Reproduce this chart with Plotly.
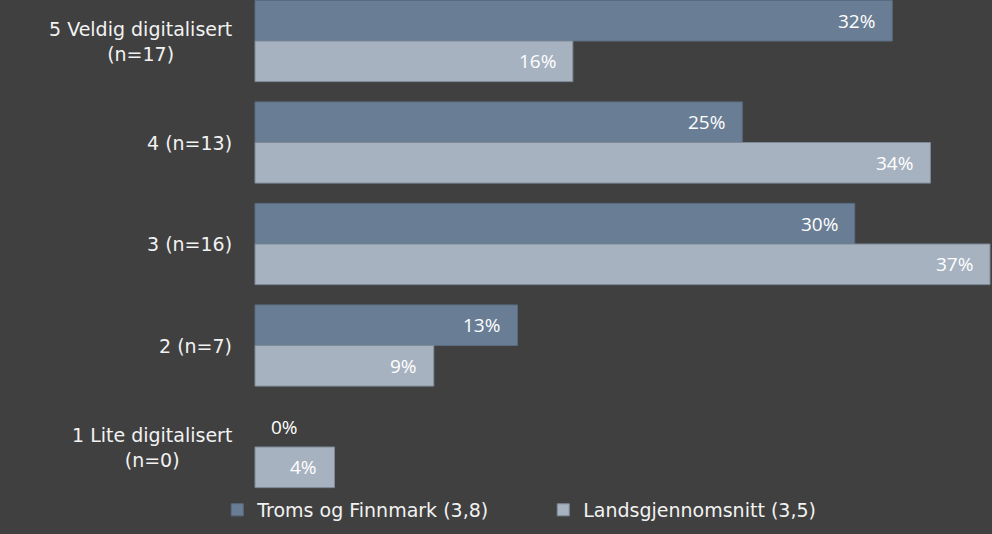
import plotly.graph_objects as go

categories = ["5 Veldig digitalisert<br>(n=17)", "4 (n=13)", "3 (n=16)", "2 (n=7)", "1 Lite digitalisert<br>(n=0)"]
series_names = ["Troms og Finnmark (3,8)", "Landsgjennomsnitt (3,5)"]
troms = [32.08, 24.53, 30.19, 13.21, 0.0]
lands = [16.0, 34.0, 37.0, 9.0, 4.0]

BG = "#404040"
C_TROMS = "#697E95"
C_LANDS = "#A7B2C0"
LABEL_FONT = "DejaVu Sans"
VALUE_FONT = "Open Sans"

ypos = list(range(len(categories)))


def pct(v):
    return f"{int(v + 0.5):d}%"


fig = go.Figure()
fig.add_trace(go.Bar(
    y=ypos, x=troms, orientation="h", name=series_names[0],
    marker=dict(color=C_TROMS, line=dict(color="#5A6C80", width=[1 if v > 0 else 0 for v in troms])),
    hoverinfo="skip",
))
fig.add_trace(go.Bar(
    y=ypos, x=lands, orientation="h", name=series_names[1],
    marker=dict(color=C_LANDS, line=dict(color="#7F8A98", width=[1 if v > 0 else 0 for v in lands])),
    hoverinfo="skip",
))

annotations = []
# value labels
for vals, off in ((troms, -0.2), (lands, 0.2)):
    for i, v in enumerate(vals):
        inside = v > 2
        annotations.append(dict(x=v, y=i + off, xref="x", yref="y", text=pct(v),
                                showarrow=False,
                                xanchor="right" if inside else "left",
                                xshift=-15 if inside else 14,
                                font=dict(family=VALUE_FONT, size=19, color="#FFFFFF")))
# category labels (placed left of the value-axis origin)
for i, c in enumerate(categories):
    annotations.append(dict(x=0, y=i, xref="x", yref="y", text=c, showarrow=False,
                            xanchor="right", xshift=-21, align="center",
                            font=dict(family=LABEL_FONT, size=19, color="#F2F2F2")))

fig.update_layout(
    width=992, height=534,
    paper_bgcolor=BG, plot_bgcolor=BG,
    margin=dict(l=0, r=0, t=0, b=0),
    barmode="group", bargap=0.2, bargroupgap=0,
    xaxis=dict(range=[-12.837, 37.1], showgrid=False, zeroline=False, showticklabels=False,
               showline=False, fixedrange=True),
    yaxis=dict(range=[4.857, -0.404], showgrid=False, zeroline=False, showticklabels=False,
               showline=False, fixedrange=True),
    showlegend=True,
    legend=dict(orientation="h", xref="paper", yref="paper",
                x=0.219, xanchor="left", y=0.045, yanchor="middle",
                font=dict(family=LABEL_FONT, size=19, color="#F2F2F2"),
                bgcolor="rgba(0,0,0,0)", entrywidth=281, entrywidthmode="pixels",
                itemclick=False, itemdoubleclick=False),
    annotations=annotations,
)

fig.write_html(
    "out.html",
    config={"displayModeBar": False},
    post_script="document.body.style.margin='0';document.body.style.background='#404040';document.body.style.overflow='hidden';",
)
